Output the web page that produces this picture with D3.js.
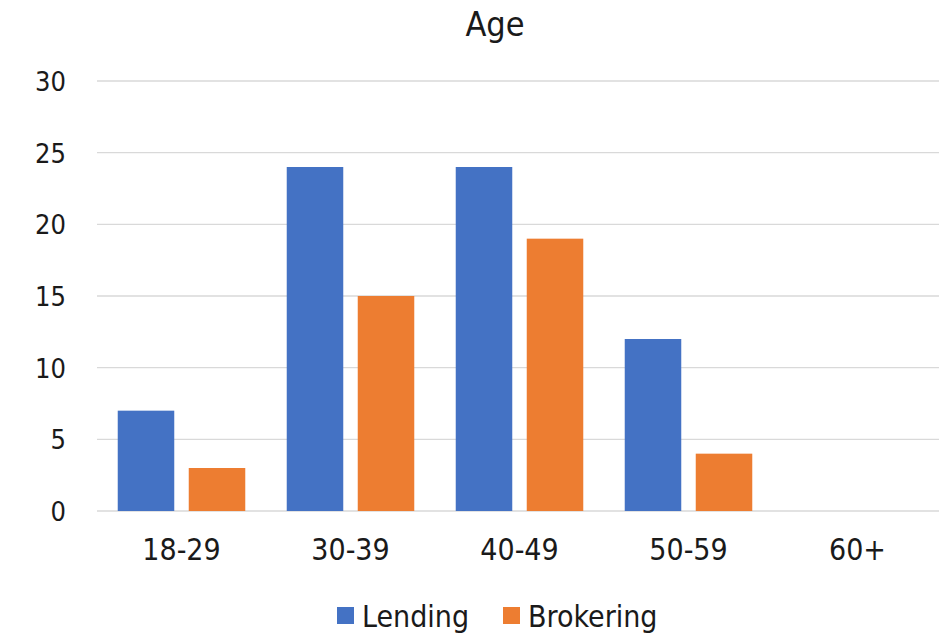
<!DOCTYPE html>
<html>
<head>
<meta charset="utf-8">
<script src="https://cdn.jsdelivr.net/npm/d3@7"></script>
<style>
  html, body { margin: 0; padding: 0; background: #fff; }
  svg { display: block; }
  text { font-family: "DejaVu Sans Condensed", "DejaVu Sans", sans-serif; fill: #1a1a1a; }
</style>
</head>
<body>
<script>
// Age distribution of respondents, by business line
const categories = ["18-29", "30-39", "40-49", "50-59", "60+"];
const seriesNames = ["Lending", "Brokering"];
const lending = [7, 24, 24, 12, 0];
const brokering = [3, 15, 19, 4, 0];
const yTicks = [0, 5, 10, 15, 20, 25, 30];
const colors = ["#4472C4", "#ED7D31"];

const width = 945, height = 634;
const plot = { left: 97, right: 942, top: 81, bottom: 511, gridRight: 939 };

const svg = d3.select("body").append("svg")
  .attr("width", width).attr("height", height);

const x = d3.scaleBand()
  .domain(categories)
  .range([plot.left, plot.right])
  .paddingInner(0).paddingOuter(0);

const x1 = d3.scaleBand()
  .domain(seriesNames)
  .range([0, x.bandwidth()])
  .paddingInner(0.204).paddingOuter(0.292);

const y = d3.scaleLinear()
  .domain([0, 30])
  .range([plot.bottom, plot.top]);

// gridlines
svg.append("g")
  .selectAll("line")
  .data(yTicks)
  .join("line")
  .attr("x1", plot.left).attr("x2", plot.gridRight)
  .attr("y1", d => y(d)).attr("y2", d => y(d))
  .attr("stroke", "#d9d9d9").attr("stroke-width", 1.3);

// y axis labels
const yAxis = d3.axisLeft(y).tickValues(yTicks).tickSize(0).tickPadding(0);
const gy = svg.append("g")
  .attr("transform", "translate(66,0)")
  .call(yAxis);
gy.select(".domain").remove();
gy.selectAll("text")
  .style("font-size", "27px")
  .attr("dy", "0.35em")
  .style("fill", "#1a1a1a");

// x axis labels
const xAxis = d3.axisBottom(x).tickSize(0).tickPadding(0);
const gx = svg.append("g")
  .attr("transform", `translate(0,${y(0) + 28})`)
  .call(xAxis);
gx.select(".domain").remove();
gx.selectAll("text")
  .style("font-size", "30px")
  .attr("dy", "0.71em")
  .style("fill", "#1a1a1a");

// bars
const rows = categories.map((c, i) => ({ cat: c, values: [lending[i], brokering[i]] }));
svg.append("g")
  .selectAll("g")
  .data(rows)
  .join("g")
  .attr("transform", d => `translate(${x(d.cat)},0)`)
  .selectAll("rect")
  .data(d => d.values.map((v, j) => ({ name: seriesNames[j], value: v, j })))
  .join("rect")
  .attr("x", d => x1(d.name))
  .attr("width", x1.bandwidth())
  .attr("y", d => y(d.value))
  .attr("height", d => y(0) - y(d.value))
  .attr("fill", d => colors[d.j]);

// title
svg.append("text")
  .attr("x", 495).attr("y", 36)
  .attr("text-anchor", "middle")
  .style("font-size", "34px")
  .text("Age");

// legend
const legend = svg.append("g").attr("transform", "translate(0,616)");
const legendItems = [
  { name: seriesNames[0], color: colors[0], x: 337 },
  { name: seriesNames[1], color: colors[1], x: 503 }
];
const li = legend.selectAll("g").data(legendItems).join("g")
  .attr("transform", d => `translate(${d.x},0)`);
li.append("rect")
  .attr("x", 0).attr("y", -9).attr("width", 17).attr("height", 17)
  .attr("fill", d => d.color);
li.append("text")
  .attr("x", 25).attr("y", 0).attr("dy", "0.36em")
  .style("font-size", "30px")
  .text(d => d.name);
</script>
</body>
</html>
